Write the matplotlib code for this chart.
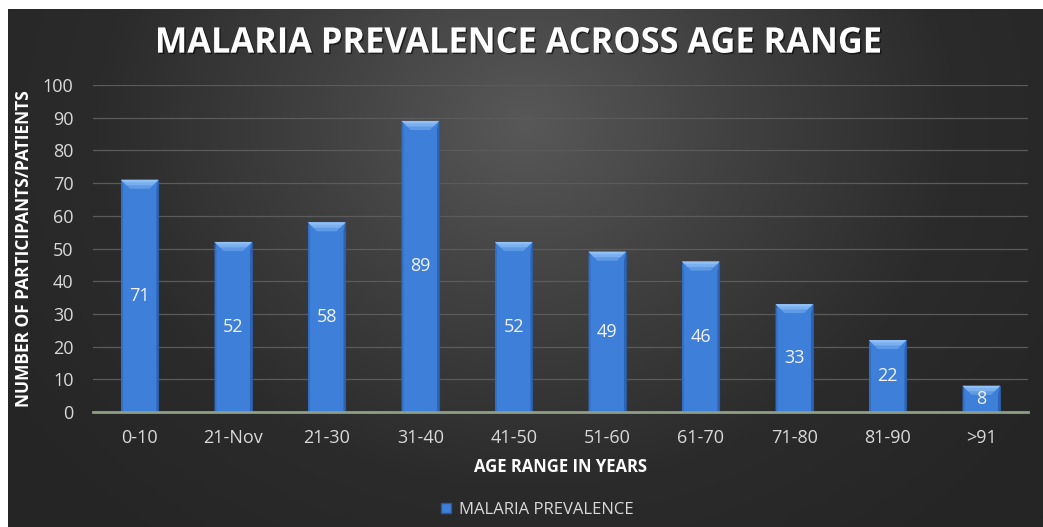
import numpy as np
import matplotlib
matplotlib.use("Agg")
import matplotlib.pyplot as plt
from matplotlib.patches import Polygon, Patch, PathPatch
from matplotlib.colors import LinearSegmentedColormap
from matplotlib.textpath import TextPath
from matplotlib.font_manager import FontProperties
from matplotlib.transforms import Affine2D, IdentityTransform

# Data
age_ranges = ["0-10", "21-Nov", "21-30", "31-40", "41-50", "51-60", "61-70", "71-80", "81-90", ">91"]
prevalence = [71, 52, 58, 89, 52, 49, 46, 33, 22, 8]
y_ticks = [0, 10, 20, 30, 40, 50, 60, 70, 80, 90, 100]

title = "MALARIA PREVALENCE ACROSS AGE RANGE"
x_label = "AGE RANGE IN YEARS"
y_label = "NUMBER OF PARTICIPANTS/PATIENTS"
series_name = "MALARIA PREVALENCE"

plt.rcParams["font.family"] = ["Open Sans", "DejaVu Sans"]

W, H = 1043, 527
fig = plt.figure(figsize=(W / 100, H / 100), dpi=100, facecolor="white")

# Dark radial-gradient backdrop
bg = fig.add_axes([8 / W, 0, 1 - 8 / W, 1 - 9 / H])
bg.set_axis_off()
gh, gw = 300, 600
yy, xx = np.mgrid[0:gh, 0:gw]
cx, cy = 0.5 * gw, 0.22 * gh
r = np.sqrt(((xx - cx) / (0.62 * gw)) ** 2 + ((yy - cy) / (1.05 * gh)) ** 2)
r = np.clip(r, 0, 1)
cmap_bg = LinearSegmentedColormap.from_list("bg", ["#585858", "#404040", "#2b2b2b", "#252525"])
bg.imshow(r, cmap=cmap_bg, aspect="auto", extent=[0, 1, 0, 1], origin="upper", vmin=0, vmax=1)
bg.set_xlim(0, 1)
bg.set_ylim(0, 1)

ax_left, ax_right = 93 / W, 1028 / W
ax_bottom, ax_top = (H - 412) / H, (H - 85) / H
ax = fig.add_axes([ax_left, ax_bottom, ax_right - ax_left, ax_top - ax_bottom])
ax.set_facecolor("none")

x = np.arange(len(age_ranges))
bars = ax.bar(x, prevalence, width=0.4, color="#3e7fd9", edgecolor="#2a5a9e",
              linewidth=0.8, zorder=3)

ax.set_xlim(-0.5, len(age_ranges) - 0.5)
ax.set_ylim(0, 100)
ax.set_yticks(y_ticks)
ax.set_xticks(x)
ax.set_xticklabels(age_ranges)

for s in ["top", "right", "left"]:
    ax.spines[s].set_visible(False)
ax.spines["bottom"].set_color("#8f9e86")
ax.spines["bottom"].set_linewidth(2)
ax.spines["bottom"].set_zorder(4)

ax.yaxis.grid(True, color="#5b5b5b", linewidth=0.9, zorder=0)
ax.set_axisbelow(True)
ax.tick_params(axis="both", length=0, colors="#d9d9d9", labelsize=13)
ax.tick_params(axis="x", pad=12)
ax.tick_params(axis="y", pad=14)

ax.set_xlabel(x_label, color="white", fontsize=12, fontweight="bold", labelpad=8)
ax.set_ylabel(y_label, color="white", fontsize=12.5, fontweight="bold")
ax.yaxis.set_label_coords(-60 / 935, 0.5)

# Bevel shading on each bar, sized in pixels
fig.canvas.draw()
ux = ax.transData.transform([[1, 0]])[0][0] - ax.transData.transform([[0, 0]])[0][0]
uy = ax.transData.transform([[0, 1]])[0][1] - ax.transData.transform([[0, 0]])[0][1]
dx = 9.0 / ux
dh = 9.0 / uy
ds = 2.0 / ux
for b in bars:
    x0 = b.get_x()
    x1 = x0 + b.get_width()
    top = b.get_height()
    h = min(dh, top * 0.45)
    ax.add_patch(Polygon([(x0, 0), (x0 + ds, 0), (x0 + ds, top - h), (x0, top)],
                         closed=True, facecolor="#3270c4", edgecolor="none", zorder=4))
    ax.add_patch(Polygon([(x1, 0), (x1 - ds, 0), (x1 - ds, top - h), (x1, top)],
                         closed=True, facecolor="#2d63b2", edgecolor="none", zorder=4))
    ax.add_patch(Polygon([(x0, top), (x1, top), (x1 - dx, top - h), (x0 + dx, top - h)],
                         closed=True, facecolor="#5f9ae6", edgecolor="none", zorder=4))
    f = 0.6
    ax.add_patch(Polygon([(x0, top), (x1, top), (x1 - dx * f, top - h * f), (x0 + dx * f, top - h * f)],
                         closed=True, facecolor="#7bb0f0", edgecolor="none", zorder=4))
    f = 0.25
    ax.add_patch(Polygon([(x0, top), (x1, top), (x1 - dx * f, top - h * f), (x0 + dx * f, top - h * f)],
                         closed=True, facecolor="#92c0f4", edgecolor="none", zorder=4))
    ax.text(b.get_x() + b.get_width() / 2, top / 2, f"{top:g}", ha="center", va="center",
            color="#f2f2f2", fontsize=13, zorder=5)

# Condensed bold title, fitted to its box in pixels
fp = FontProperties(family="Open Sans", weight="bold")
tp = TextPath((0, 0), title, size=100, prop=fp)
bb = tp.get_extents()
t_left, t_right, t_base, t_cap = 158, 880, H - 53, 26
sx = (t_right - t_left) / bb.width
sy = t_cap / bb.height
base_tf = Affine2D().translate(-bb.x0, -bb.y0).scale(sx, sy)
shadow = PathPatch((base_tf + Affine2D().translate(t_left + 1.5, t_base - 1.5)).transform_path(tp),
                   facecolor="black", edgecolor="none", alpha=0.55, transform=IdentityTransform())
face = PathPatch((base_tf + Affine2D().translate(t_left, t_base)).transform_path(tp),
                 facecolor="white", edgecolor="none", transform=IdentityTransform())
fig.add_artist(shadow)
fig.add_artist(face)

handle = Patch(facecolor="#3e7fd9", edgecolor="#2a5a9e", label=series_name)
fig.legend(handles=[handle], loc="center", bbox_to_anchor=(537 / W, 1 - 510 / H),
           frameon=False, fontsize=12, handlelength=0.6, handleheight=0.6,
           handletextpad=0.5, labelcolor="#d9d9d9")

fig.savefig("out.png", dpi=100, facecolor="white")
